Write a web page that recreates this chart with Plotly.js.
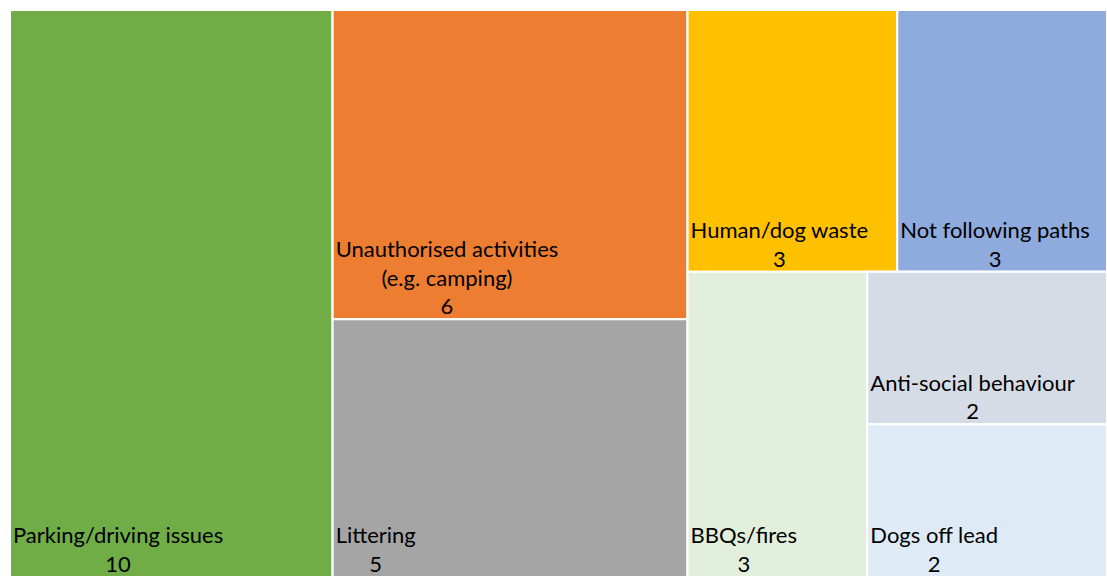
<!DOCTYPE html>
<html>
<head>
<meta charset="utf-8">
<script src="https://cdn.plot.ly/plotly-3.0.1.min.js"></script>
<style>html,body{margin:0;padding:0;background:#fff;}#chart{width:1107px;height:577px;}</style>
</head>
<body>
<div id="chart"></div>
<script>
// Leaf categories and their counts
const categories = ["Parking/driving issues", "Unauthorised activities<br>(e.g. camping)", "Littering",
  "Human/dog waste", "Not following paths", "BBQs/fires", "Anti-social behaviour", "Dogs off lead"];
const values = [10, 6, 5, 3, 3, 3, 2, 2];
const colors = ["#70AD47", "#ED7D31", "#A5A5A5", "#FFC000", "#8FAADC", "#E2EFDA", "#D6DCE5", "#DEEBF7"];
// Layout grouping (structural, unlabeled groups)
const groupIds = ["g2", "g3", "g3top", "g3bot", "g3botR"];
const groupParents = ["", "", "g3", "g3", "g3bot"];
const leafParents = ["", "g2", "g2", "g3top", "g3top", "g3bot", "g3botR", "g3botR"];
// Node ordering (leaf index as number, group id as string)
const order = [0, "g2", 1, 2, "g3", "g3top", 3, 4, "g3bot", 5, "g3botR", 6, 7];

const ids = [], labels = [], parents = [], vals = [], texts = [], cols = [];
order.forEach(function (o) {
  if (typeof o === "number") {
    ids.push("leaf" + o); labels.push(categories[o]);
    parents.push(leafParents[o]); vals.push(values[o]);
    texts.push(categories[o] + "<br>" + values[o]); cols.push(colors[o]);
  } else {
    const gi = groupIds.indexOf(o);
    ids.push(o); labels.push(o); parents.push(groupParents[gi]);
    vals.push(0); texts.push(""); cols.push("#ffffff");
  }
});

const trace = {
  type: "treemap",
  ids: ids, labels: labels, parents: parents, values: vals,
  branchvalues: "remainder",
  sort: false,
  text: texts,
  textinfo: "text",
  textposition: "bottom left",
  textfont: {family: "Lato, 'Open Sans', sans-serif", size: 22, color: "#000000"},
  marker: {colors: cols, line: {color: "#ffffff", width: 2}, pad: {t: 0, l: 0, r: 0, b: 0}},
  tiling: {packing: "slice-dice", pad: 0},
  pathbar: {visible: false},
  hoverinfo: "none"
};

const layout = {
  width: 1107, height: 577,
  margin: {l: 10, r: 0, t: 10, b: 0},
  paper_bgcolor: "#ffffff",
  uniformtext: {mode: "show", minsize: 22}
};

Plotly.newPlot("chart", [trace], layout, {displayModeBar: false, staticPlot: true}).then(function (gd) {
  // center multi-line labels within their text block, and nudge closer to tile bottom
  gd.querySelectorAll("text.slicetext").forEach(function (t) {
    const lines = t.querySelectorAll("tspan.line");
    if (lines.length >= 2) {
      let W = 0; const ws = [];
      lines.forEach(function (l) { const w = l.getComputedTextLength(); ws.push(w); if (w > W) W = w; });
      lines.forEach(function (l, i) { l.setAttribute("x", (W - ws[i]) / 2); });
    }
    const tr = t.getAttribute("transform") || "";
    t.setAttribute("transform", "translate(0,3)" + tr);
  });
});
</script>
</body>
</html>
